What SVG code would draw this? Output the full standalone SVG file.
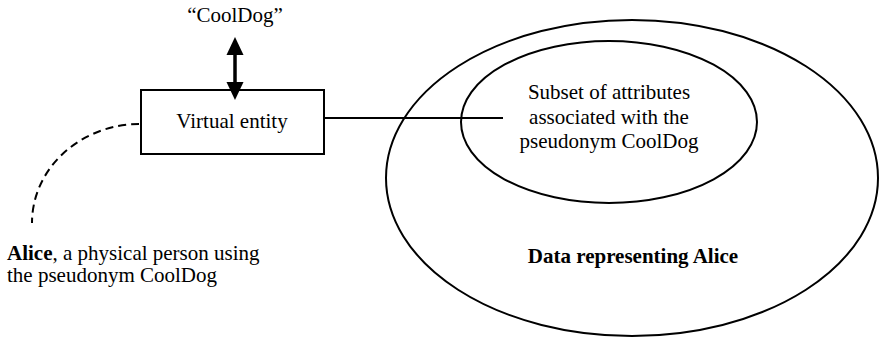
<svg xmlns="http://www.w3.org/2000/svg" width="879" height="338" viewBox="0 0 879 338">
  <defs>
    <style>
      .shape { fill: none; stroke: #000; stroke-width: 2; }
      .box { fill: #fff; stroke: #000; stroke-width: 2; }
      .label { font-family: "Liberation Serif", "Times New Roman", serif; font-size: 21px; fill: #000; }
      .mid { text-anchor: middle; }
      .bold { font-weight: bold; }
      .link { fill: none; stroke: #000; stroke-width: 2; }
      .dashed { stroke-dasharray: 8 5; }
      .thick { stroke-width: 3.5; }
    </style>
    <marker id="head" viewBox="0 0 18 19" refX="0" refY="9" markerWidth="19" markerHeight="18" markerUnits="userSpaceOnUse" orient="auto-start-reverse">
      <path d="M0,0 L19,9 L0,18 Z" fill="#000"/>
    </marker>
  </defs>

  <!-- Data representing Alice (outer set) -->
  <g id="data-alice">
    <ellipse class="shape" cx="632" cy="178" rx="246" ry="158"/>
    <text class="label mid bold" x="633" y="263">Data representing Alice</text>
  </g>

  <!-- Subset of attributes tied to the pseudonym -->
  <g id="subset">
    <ellipse class="shape" cx="609" cy="122" rx="148" ry="81"/>
    <text class="label mid" x="609" y="99">Subset of attributes</text>
    <text class="label mid" x="609" y="123.5">associated with the</text>
    <text class="label mid" x="609" y="148">pseudonym CoolDog</text>
  </g>

  <!-- Virtual entity box -->
  <g id="virtual-entity">
    <rect class="box" x="141" y="90" width="183" height="64"/>
    <text class="label mid" x="232" y="128">Virtual entity</text>
  </g>

  <!-- Pseudonym label -->
  <g id="pseudonym">
    <text class="label mid" x="235" y="22">“CoolDog”</text>
  </g>

  <!-- Physical person -->
  <g id="alice">
    <text class="label" x="7" y="260"><tspan class="bold">Alice</tspan>, a physical person using</text>
    <text class="label" x="7" y="282">the pseudonym CoolDog</text>
  </g>

  <!-- Connectors -->
  <g id="connectors">
    <line class="link thick" x1="235" y1="55" x2="235" y2="82" marker-start="url(#head)" marker-end="url(#head)"/>
    <line class="link" x1="324" y1="118" x2="503" y2="118"/>
    <path class="link dashed" d="M139,124 A108,99 0 0 0 32,223"/>
  </g>
</svg>
